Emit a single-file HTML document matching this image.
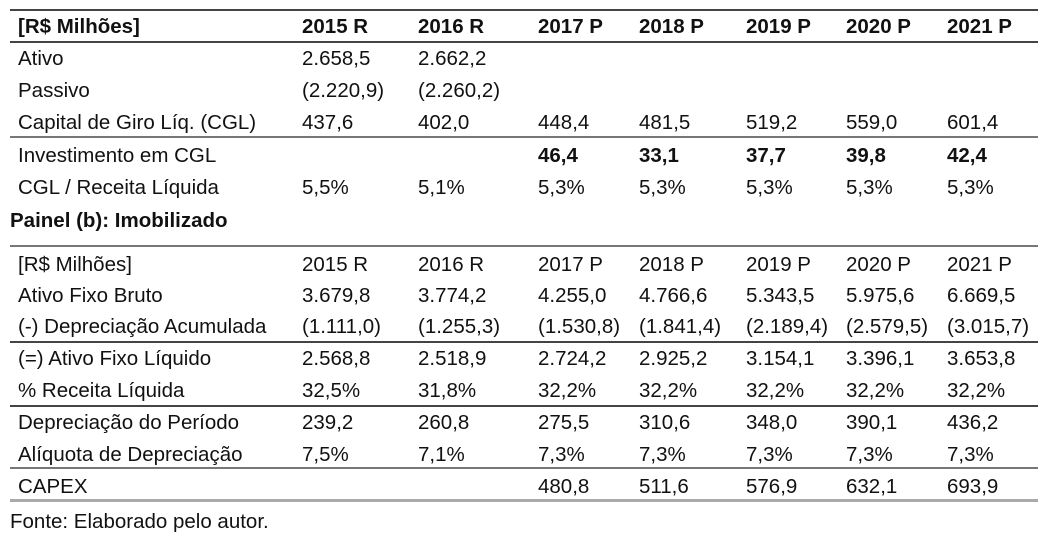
<!DOCTYPE html>
<html><head><meta charset="utf-8"><style>
body{margin:0;width:1056px;height:518px;background:#fff;overflow:hidden;position:relative;font-family:"Liberation Sans",Arial,sans-serif;color:#111}
.r{position:absolute;left:0;width:1056px;height:24px;line-height:24px;font-size:20.5px}
.r span{position:absolute;white-space:nowrap}
.b{font-weight:bold}
.ln{position:absolute;left:10px;width:1028px;height:2px;background:#444}
</style></head><body>
<div class="ln" style="top:9px"></div>
<div class="ln" style="top:41px"></div>
<div class="ln" style="top:136px;background:#777"></div>
<div class="ln" style="top:245px;background:#777"></div>
<div class="ln" style="top:341px"></div>
<div class="ln" style="top:405px"></div>
<div class="ln" style="top:467px;background:#777"></div>
<div class="ln" style="top:499px;height:3px;background:#aaa"></div>
<div id="rows"></div>
<script>
const xs=[18,302,418,538,639,746,846,947];
const rows=[
 [27,true,["[R$ Milhões]","2015 R","2016 R","2017 P","2018 P","2019 P","2020 P","2021 P"],"header-row-a"],
 [59,false,["Ativo","2.658,5","2.662,2"],"ativo-row"],
 [91,false,["Passivo","(2.220,9)","(2.260,2)"],"passivo-row"],
 [123,false,["Capital de Giro Líq. (CGL)","437,6","402,0","448,4","481,5","519,2","559,0","601,4"],"cgl-row"],
 [156,"partial",["Investimento em CGL","","","46,4","33,1","37,7","39,8","42,4"],"investimento-cgl-row"],
 [188,false,["CGL / Receita Líquida","5,5%","5,1%","5,3%","5,3%","5,3%","5,3%","5,3%"],"cgl-receita-row"],
 [265,false,["[R$ Milhões]","2015 R","2016 R","2017 P","2018 P","2019 P","2020 P","2021 P"],"header-row-b"],
 [296,false,["Ativo Fixo Bruto","3.679,8","3.774,2","4.255,0","4.766,6","5.343,5","5.975,6","6.669,5"],"ativo-fixo-bruto-row"],
 [327,false,["(-) Depreciação Acumulada","(1.111,0)","(1.255,3)","(1.530,8)","(1.841,4)","(2.189,4)","(2.579,5)","(3.015,7)"],"depreciacao-acumulada-row"],
 [359,false,["(=) Ativo Fixo Líquido","2.568,8","2.518,9","2.724,2","2.925,2","3.154,1","3.396,1","3.653,8"],"ativo-fixo-liquido-row"],
 [391,false,["% Receita Líquida","32,5%","31,8%","32,2%","32,2%","32,2%","32,2%","32,2%"],"receita-liquida-pct-row"],
 [423,false,["Depreciação do Período","239,2","260,8","275,5","310,6","348,0","390,1","436,2"],"depreciacao-periodo-row"],
 [455,false,["Alíquota de Depreciação","7,5%","7,1%","7,3%","7,3%","7,3%","7,3%","7,3%"],"aliquota-row"],
 [487,false,["CAPEX","","","480,8","511,6","576,9","632,1","693,9"],"capex-row"]
];
const host=document.getElementById('rows');
rows.forEach(r=>{
 const d=document.createElement('div');d.className='r';d.style.top=(r[0]-12)+'px';
 
 
 r[2].forEach((t,i)=>{
  if(!t)return;
  const s=document.createElement('span');s.textContent=t;s.style.left=xs[i]+'px';
  if(r[1]===true||(r[1]==='partial'&&i>0))s.className='b';
  
  
  d.appendChild(s);
 });
 host.appendChild(d);
});
</script>
<div class="r b" style="top:209px"><span style="left:10px">Painel (b): Imobilizado</span></div>
<div class="r" style="top:510px"><span style="left:10px">Fonte: Elaborado pelo autor.</span></div>
</body></html>
